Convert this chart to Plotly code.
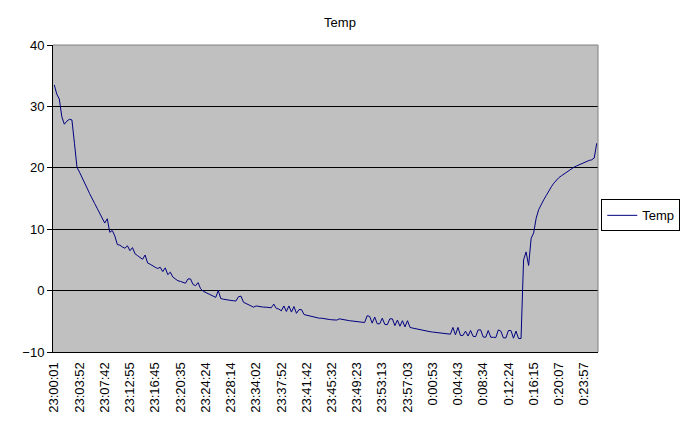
import plotly.graph_objects as go

temp = [
    33.5, 32.0, 31.2, 28.3, 27.1, 27.6, 27.9, 27.8, 24.0, 20.1,
    19.3, 18.5, 17.5, 16.7, 15.8, 14.9, 14.2, 13.4, 12.6, 11.8,
    11.0, 11.7, 9.5, 9.8, 8.9, 7.5, 7.4, 7.1, 6.9, 7.3,
    6.5, 7.0, 6.0, 5.7, 5.4, 5.1, 5.8, 4.5, 4.3, 4.0,
    3.8, 3.6, 3.8, 3.1, 3.7, 2.6, 3.0, 2.2, 1.9, 1.6,
    1.5, 1.3, 1.2, 1.9, 1.9, 1.0, 0.8, 1.3, 0.3, -0.1,
    -0.3, -0.6, -0.8, -1.0, -1.1, 0.0, -1.3, -1.4, -1.5, -1.5,
    -1.6, -1.65, -1.7, -1.0, -0.9, -1.9, -2.1, -2.3, -2.5, -2.7,
    -2.5, -2.6, -2.6, -2.7, -2.7, -2.8, -2.8, -2.2, -2.9, -3.0,
    -3.3, -2.5, -3.4, -2.5, -3.5, -2.6, -3.7, -3.1, -3.1, -3.9,
    -4.0, -4.2, -4.3, -4.4, -4.4, -4.5, -4.5, -4.6, -4.6, -4.7,
    -4.75, -4.8, -4.8, -4.6, -4.7, -4.8, -4.85, -4.9, -4.95, -5.0,
    -5.05, -5.1, -5.15, -5.2, -4.1, -4.2, -5.3, -4.3, -5.4, -5.4,
    -4.5, -5.5, -5.55, -4.6, -4.6, -5.7, -4.8, -5.8, -4.9, -5.9,
    -4.9, -6.0, -6.1, -6.2, -6.3, -6.4, -6.5, -6.55, -6.6, -6.7,
    -6.75, -6.8, -6.85, -6.9, -7.0, -7.0, -7.1, -7.1, -6.0, -7.2,
    -6.0, -7.3, -7.3, -6.6, -7.4, -6.5, -7.45, -7.5, -6.4, -6.4,
    -7.55, -7.6, -6.5, -7.6, -7.6, -7.65, -6.4, -6.6, -7.7, -7.7,
    -6.5, -6.5, -7.75, -6.6, -7.8, -7.8, 5.0, 6.3, 4.1, 8.5,
    9.4, 11.8, 13.2, 14.1, 14.8, 15.5, 16.3, 16.9, 17.5, 18.0,
    18.4, 18.7, 19.0, 19.3, 19.6, 19.9, 20.1, 20.3, 20.5, 20.7,
    20.8, 21.0, 21.2, 21.3, 21.6, 24.0,
]

# category labels shown on the x axis (every 10th sample)
time_labels = [
    "23:00:01", "23:03:52", "23:07:42", "23:12:55", "23:16:45", "23:20:35",
    "23:24:24", "23:28:14", "23:34:02", "23:37:52", "23:41:42", "23:45:32",
    "23:49:23", "23:53:13", "23:57:03", "0:00:53", "0:04:43", "0:08:34",
    "0:12:24", "0:16:15", "0:20:07", "0:23:57",
]
label_step = 10

n = len(temp)
x = list(range(n))
tickvals = [i * label_step for i in range(len(time_labels))]

fig = go.Figure()
fig.add_trace(go.Scatter(x=x, y=temp, mode="lines", name="Temp",
                         line=dict(color="rgb(0,0,128)", width=1)))

fig.update_layout(
    width=680, height=432, autosize=False,
    margin=dict(l=53, r=82, t=45, b=80, autoexpand=False),
    paper_bgcolor="white", plot_bgcolor="rgb(192,192,192)",
    font=dict(family="Liberation Sans, Arial, sans-serif", size=13, color="black"),
    title=dict(text="Temp", x=0.5, xanchor="center", yref="container",
               y=0.948, yanchor="middle", font=dict(size=13)),
    showlegend=True,
    legend=dict(x=1.006, xanchor="left", y=0.445, yanchor="middle",
                bgcolor="white", bordercolor="black", borderwidth=1,
                font=dict(size=13), itemwidth=30),
)

fig.update_xaxes(
    range=[-0.5, n - 0.5], automargin=False,
    tickmode="array", tickvals=tickvals, ticktext=time_labels,
    tickangle=-90, showgrid=False, zeroline=False,
    showline=True, linecolor="black", linewidth=1,
    ticks="outside", ticklen=4, tickcolor="rgba(0,0,0,0)",
)
fig.update_yaxes(
    range=[-10, 40], dtick=10, automargin=False,
    showgrid=True, gridcolor="black", gridwidth=1, zeroline=False,
    showline=True, linecolor="black", linewidth=1,
    ticks="outside", ticklen=5, tickcolor="black",
)

# grey top/right frame like the spreadsheet chart
fig.add_shape(type="line", xref="paper", yref="paper", x0=0, x1=1, y0=1, y1=1,
              line=dict(color="rgb(128,128,128)", width=1), layer="above")
fig.add_shape(type="line", xref="paper", yref="paper", x0=1, x1=1, y0=0, y1=1,
              line=dict(color="rgb(128,128,128)", width=1), layer="above")

# drop the page's default body margin so the figure sits at the window corner
fig.write_html(
    "out.html",
    config={"displayModeBar": False, "responsive": False},
    post_script="document.body.style.margin='0';document.body.style.overflow='hidden';",
)
